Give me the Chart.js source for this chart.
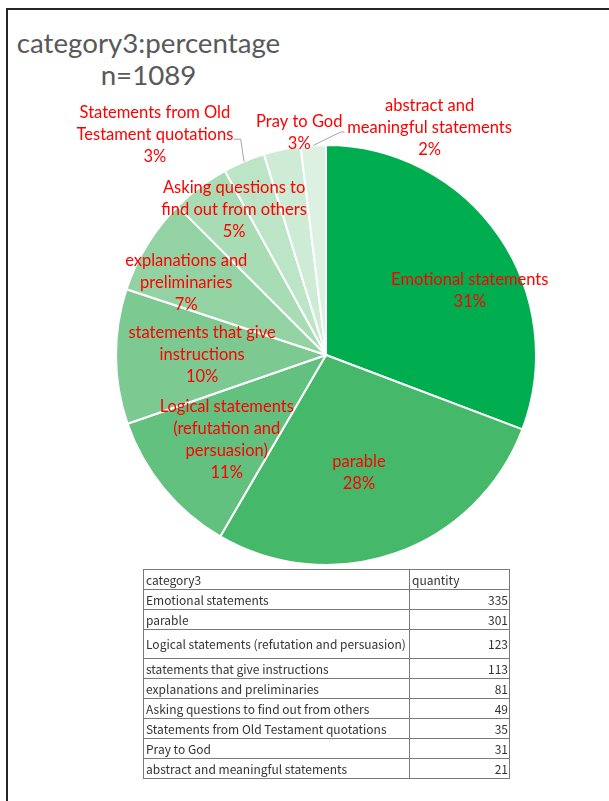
<!DOCTYPE html>
<html>
<head>
<meta charset="utf-8">
<script src="https://cdn.jsdelivr.net/npm/chart.js@4"></script>
<style>
  html, body { margin: 0; padding: 0; background: #fff; }
  body { width: 609px; height: 801px; position: relative; overflow: hidden; }
  .frame { position: absolute; left: 6px; top: 8px; right: -4px; bottom: -4px;
           border-left: 2px solid #262626; border-top: 2px solid #262626; }
  .title { position: absolute; left: 0px; top: 27px; width: 297px; text-align: center;
           font-family: Lato, sans-serif; font-size: 27.7px; line-height: 32px; color: #595959; }
  #wrap { position: absolute; left: 0; top: 0; width: 609px; height: 575px; }
  table { position: absolute; left: 143px; top: 569px; width: 367px; border-collapse: collapse;
          font-family: "Noto Sans CJK JP", "Noto Sans", sans-serif; font-size: 12px; color: #333; }
  td { border: 1px solid #7a7a7a; padding: 0 1px 0 2px; height: 19px; line-height: 14px; }
  td.num { text-align: right; }
  tr.tall td { height: 28px; }
</style>
</head>
<body>
<div class="frame"></div>
<div class="title">category3:percentage<br>n=1089</div>
<div id="wrap"><canvas id="pie"></canvas></div>
<table id="tabla"></table>

<script>
// datos
const categorias = ['Emotional statements', 'parable', 'Logical statements (refutation and persuasion)',
  'statements that give instructions', 'explanations and preliminaries', 'Asking questions to find out from others',
  'Statements from Old Testament quotations', 'Pray to God', 'abstract and meaningful statements'];
const cantidades = [335, 301, 123, 113, 81, 49, 35, 31, 21];
// etiquetas del gráfico (con saltos de línea)
const etiquetas = [
  ['Emotional statements'],
  ['parable'],
  ['Logical statements', '(refutation and', 'persuasion)'],
  ['statements that give', 'instructions'],
  ['explanations and', 'preliminaries'],
  ['Asking questions to', 'find out from others'],
  ['Statements from Old', 'Testament quotations'],
  ['Pray to God'],
  ['abstract and', 'meaningful statements']
];
const colores = ['#00AD4F', '#45B86A', '#63C17F', '#7CCA91', '#93D3A3', '#A8DCB5', '#BCE4C6', '#CEEBD5', '#DDF1E3'];

// posición de cada etiqueta: desplazamiento de ángulo (grados) y fracción del radio
const posEtiqueta = [[10.5, 0.75], [3.8, 0.58], [-0.9, 0.62], [0.5, 0.59], [-4.2, 0.75],
  [4.6, 0.82], [-14.9, 1.327], [5.2, 1.065], [28.0, 1.188]];
// líneas guía: índice -> [ángulo codo, radio codo, largo horizontal]
const guias = { 6: [1.4, 1.105, -7], 8: [7.2, 1.064, 4] };

// porcentajes redondeados que suman 100 (resto mayor)
const total = cantidades.reduce((a, b) => a + b, 0);
const crudos = cantidades.map(v => v / total * 100);
const pct = crudos.map(Math.floor);
let faltan = 100 - pct.reduce((a, b) => a + b, 0);
crudos.map((v, i) => [v - Math.floor(v), i]).sort((a, b) => b[0] - a[0])
  .slice(0, faltan).forEach(([, i]) => pct[i]++);

// tabla de cantidades
const tabla = document.getElementById('tabla');
let filas = '<tr><td style="width:262px">category3</td><td>quantity</td></tr>';
categorias.forEach((c, i) => {
  filas += `<tr${i === 2 ? ' class="tall"' : ''}><td>${c}</td><td class="num">${cantidades[i]}</td></tr>`;
});
tabla.innerHTML = filas;

const etiquetasPlugin = {
  id: 'etiquetas',
  afterDatasetsDraw(chart) {
    const ctx = chart.ctx;
    const arcos = chart.getDatasetMeta(0).data;
    ctx.save();
    ctx.font = '16.5px Lato';
    ctx.fillStyle = '#FF0000';
    ctx.textAlign = 'center';
    ctx.textBaseline = 'middle';
    arcos.forEach((arc, i) => {
      const mid = (arc.startAngle + arc.endAngle) / 2;
      const a = mid + posEtiqueta[i][0] * Math.PI / 180;
      const r = arc.outerRadius * posEtiqueta[i][1];
      const cx = arc.x + r * Math.cos(a);
      const cy = arc.y + r * Math.sin(a);
      const lineas = etiquetas[i].concat([pct[i] + '%']);
      const alto = 22;
      lineas.forEach((t, k) => {
        ctx.fillText(t, cx, cy + (k - (lineas.length - 1) / 2) * alto);
      });
      if (guias[i]) {
        const g = guias[i];
        const ac = mid + g[0] * Math.PI / 180;
        const x0 = arc.x + arc.outerRadius * Math.cos(mid);
        const y0 = arc.y + arc.outerRadius * Math.sin(mid);
        const x1 = arc.x + arc.outerRadius * g[1] * Math.cos(ac);
        const y1 = arc.y + arc.outerRadius * g[1] * Math.sin(ac);
        ctx.strokeStyle = '#A6A6A6';
        ctx.lineWidth = 1;
        ctx.beginPath();
        ctx.moveTo(x0, y0);
        ctx.lineTo(x1, y1);
        ctx.lineTo(x1 + g[2], y1);
        ctx.stroke();
      }
    });
    ctx.restore();
  }
};

const ctxPie = document.getElementById('pie').getContext('2d');
new Chart(ctxPie, {
  type: 'pie',
  data: {
    labels: categorias,
    datasets: [{
      data: cantidades,
      backgroundColor: colores,
      borderColor: '#ffffff',
      borderWidth: 2
    }]
  },
  options: {
    responsive: true,
    maintainAspectRatio: false,
    animation: false,
    layout: { padding: { top: 144, bottom: 9, left: 115, right: 72 } },
    plugins: {
      legend: { display: false },
      tooltip: { enabled: false },
      title: { display: false }
    }
  },
  plugins: [etiquetasPlugin]
});
</script>
</body>
</html>
